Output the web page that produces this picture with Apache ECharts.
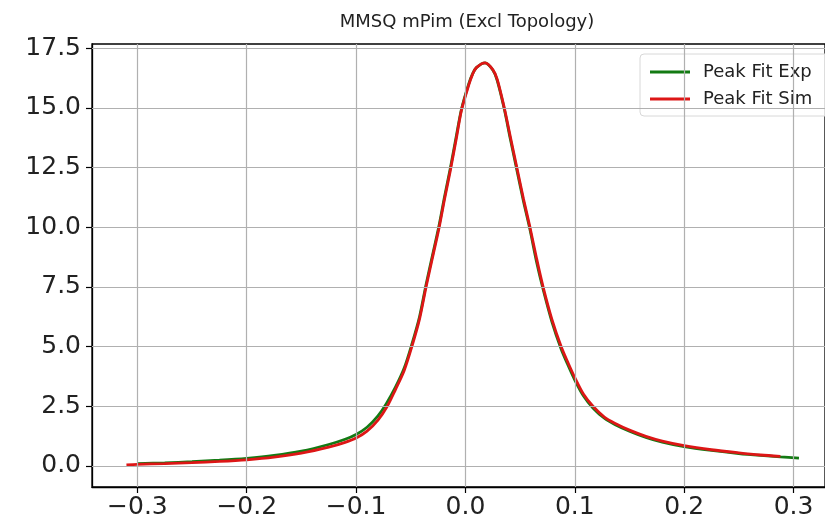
<!DOCTYPE html>
<html>
<head>
<meta charset="utf-8">
<script src="https://cdn.jsdelivr.net/npm/echarts@6/dist/echarts.min.js"></script>
<style>
html,body{margin:0;padding:0;background:#fff;}
#chart{width:825px;height:528px;}
</style>
</head>
<body>
<div id="chart"></div>
<script>
var titleText = 'MMSQ mPim (Excl Topology)';
var seriesNames = ['Peak Fit Exp', 'Peak Fit Sim'];
var xTicks = [-0.3, -0.2, -0.1, 0.0, 0.1, 0.2, 0.3];
var yTicks = [0.0, 2.5, 5.0, 7.5, 10.0, 12.5, 15.0, 17.5];

var simX = [-0.31, -0.30, -0.275, -0.25, -0.225, -0.20, -0.175, -0.15, -0.125, -0.11, -0.10, -0.09, -0.08, -0.0715, -0.064, -0.056, -0.049, -0.042, -0.036, -0.030, -0.024, -0.019, -0.0137, -0.008, -0.0036, 0.003, 0.0065, 0.010, 0.018, 0.025, 0.029, 0.0355, 0.041, 0.047, 0.053, 0.059, 0.065, 0.071, 0.079, 0.0875, 0.094, 0.100, 0.108, 0.1166, 0.127, 0.137, 0.150, 0.165, 0.180, 0.200, 0.225, 0.250, 0.270, 0.288];
var simY = [0.05, 0.07, 0.10, 0.14, 0.19, 0.26, 0.37, 0.54, 0.79, 0.99, 1.17, 1.46, 1.92, 2.5, 3.2, 4.0, 5.0, 6.15, 7.5, 8.75, 10.0, 11.2, 12.4, 13.8, 14.9, 15.95, 16.4, 16.68, 16.88, 16.6, 16.2, 15.0, 13.8, 12.5, 11.2, 10.0, 8.7, 7.5, 6.15, 5.0, 4.3, 3.7, 3.0, 2.5, 2.05, 1.78, 1.5, 1.24, 1.04, 0.85, 0.68, 0.55, 0.46, 0.40];

var expX = [-0.30, -0.275, -0.25, -0.225, -0.20, -0.175, -0.15, -0.125, -0.11, -0.10, -0.09, -0.08, -0.0725, -0.064, -0.056, -0.049, -0.042, -0.036, -0.030, -0.024, -0.019, -0.0137, -0.008, -0.0036, 0.003, 0.0065, 0.010, 0.018, 0.025, 0.029, 0.0355, 0.041, 0.047, 0.053, 0.059, 0.065, 0.071, 0.079, 0.0875, 0.094, 0.100, 0.108, 0.1166, 0.127, 0.137, 0.150, 0.165, 0.180, 0.200, 0.225, 0.250, 0.270, 0.288, 0.305];
var expY = [0.10, 0.13, 0.18, 0.24, 0.32, 0.44, 0.62, 0.90, 1.12, 1.32, 1.62, 2.10, 2.6, 3.3, 4.1, 5.1, 6.25, 7.6, 8.85, 10.1, 11.3, 12.5, 13.9, 14.95, 16.0, 16.42, 16.68, 16.88, 16.58, 16.15, 14.95, 13.7, 12.4, 11.1, 9.9, 8.55, 7.4, 6.05, 4.9, 4.2, 3.6, 2.93, 2.43, 2.0, 1.73, 1.46, 1.2, 1.0, 0.81, 0.65, 0.52, 0.44, 0.38, 0.33];

function pairs(xs, ys) { return xs.map(function (x, i) { return [x, ys[i]]; }); }
function fmt(v) { var s = Number(v).toFixed(1); if (s === '-0.0') s = '0.0'; return s.replace('-', '\u2212'); }

var chart = echarts.init(document.getElementById('chart'), null, {renderer: 'canvas'});
var FONT = 'DejaVu Sans';

var gridLines = [];
xTicks.forEach(function (v) { gridLines.push({xAxis: v}); });
yTicks.forEach(function (v) { gridLines.push({yAxis: v}); });

chart.setOption({
  animation: false,
  backgroundColor: '#ffffff',
  title: {
    text: titleText,
    left: 462,
    top: 8,
    textAlign: 'center',
    textStyle: {fontFamily: FONT, fontSize: 18, fontWeight: 'normal', color: '#222'}
  },
  legend: {
    data: seriesNames,
    orient: 'vertical',
    left: 640,
    top: 54,
    itemWidth: 40,
    itemHeight: 3,
    itemGap: 9,
    icon: 'rect',
    padding: [9, 40, 8, 10],
    borderColor: '#d8d8d8',
    borderWidth: 1,
    borderRadius: 4,
    backgroundColor: 'rgba(255,255,255,0.8)',
    textStyle: {fontFamily: FONT, fontSize: 18, color: '#222', padding: [0, 0, 0, 8]}
  },
  grid: {
    left: 92, top: 44, right: -3, bottom: 41,
    show: true, borderColor: '#000', borderWidth: 1.3, backgroundColor: 'transparent'
  },
  xAxis: {
    type: 'value',
    min: -0.3415,
    max: 0.3288,
    splitLine: {show: false},
    axisLine: {show: true, onZero: false, lineStyle: {color: '#000', width: 1.3}},
    axisTick: {show: true, customValues: xTicks, length: 6, lineStyle: {color: '#000', width: 1.2}},
    axisLabel: {customValues: xTicks, formatter: fmt, fontFamily: FONT, fontSize: 25, color: '#222', margin: 8}
  },
  yAxis: {
    type: 'value',
    min: -0.88,
    max: 17.67,
    splitLine: {show: false},
    axisLine: {show: true, onZero: false, lineStyle: {color: '#000', width: 1.3}},
    axisTick: {show: true, customValues: yTicks, length: 6, lineStyle: {color: '#000', width: 1.2}},
    axisLabel: {customValues: yTicks, formatter: fmt, fontFamily: FONT, fontSize: 25, color: '#222', margin: 11}
  },
  series: [
    {
      name: 'grid', type: 'line', data: [], z: 1, silent: true,
      markLine: {
        silent: true, symbol: ['none', 'none'], label: {show: false},
        lineStyle: {color: '#b0b0b0', width: 1.2, type: 'solid'},
        emphasis: {disabled: true},
        data: gridLines
      }
    },
    {
      name: seriesNames[0], type: 'line', data: pairs(expX, expY), z: 3,
      showSymbol: false, symbol: 'none', smooth: 0.3,
      color: '#137a13',
      lineStyle: {color: '#137a13', width: 2.8}
    },
    {
      name: seriesNames[1], type: 'line', data: pairs(simX, simY), z: 4,
      showSymbol: false, symbol: 'none', smooth: 0.3,
      color: '#dd1616',
      lineStyle: {color: '#dd1616', width: 2.8}
    }
  ]
});
</script>
</body>
</html>
